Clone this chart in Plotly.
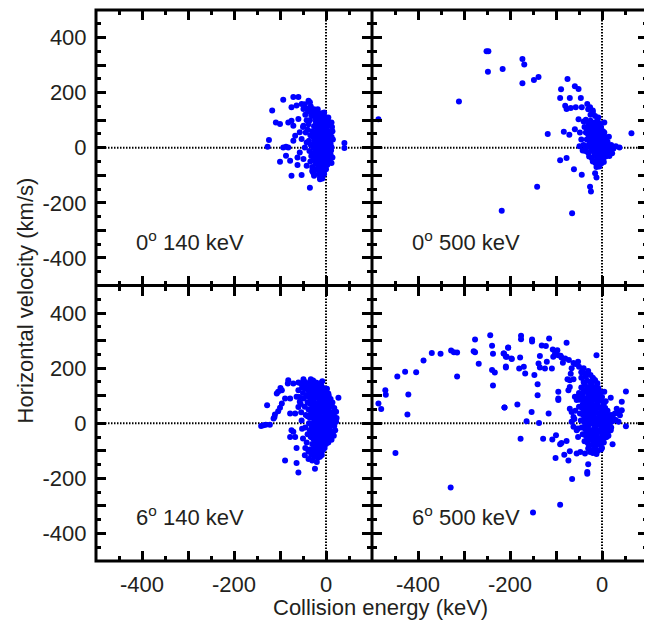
import plotly.graph_objects as go
from plotly.subplots import make_subplots

# ---------------- data ----------------
panel_labels = ["0<sup>o</sup> 140 keV", "0<sup>o</sup> 500 keV", "6<sup>o</sup> 140 keV", "6<sup>o</sup> 500 keV"]
x_ticks = [-500, -400, -300, -200, -100, 0, 100]
x_tick_text = ["", "-400", "", "-200", "", "0", ""]
y_ticks = [-500, -400, -300, -200, -100, 0, 100, 200, 300, 400, 500]
y_tick_text = ["", "-400", "", "-200", "", "0", "", "200", "", "400", ""]

# 0 deg, 140 keV
e_0_140 = [-93, -71, -60, -117, -109, -100, -124, -127, -93, -87, -82, -87, -100, -78, -62, -62, -75, -53, -35, 40, 40,
           -75, -64, -53, -49, -38, -35, -31, -82, -75, -71, -60, -49, -57, -67, -71, -53, -42, -46, -57, -49, -42, 12, 5,
           -13, -26, -30,
           -28, -24, -20, -16, -12, -8, -22, -18, -14, -10, -6, -2, -26, -20, -15, -11, -5, 0, -30, -24, -18, -13, -8, -3,
           2, 6, -28, -22, -16, -11, -6, -1, 4, 8, -25, -19, -14, -9, -4, 1, 5, 10, -27, -21, -16, -12, -7, -2, 3, 7, 12,
           -24, -18, -13, -8, -3, 2, 6, 10, -26, -20, -15, -10, -5, 0, 4, 8, -22, -17, -12, -7, -2, 3, -20, -15, -10, -5,
           0, -16, -11, -6, -13, -8, -35, -38, -40, -34, -37, -33, -36, -32, -34, -30, -28, -45, -42, -50, -44, -26, -30,
           -18, -10, 12, 14, 15, 13, 11, 14, 12, 9, 5, 0, -4, -32, -40, -46, -33, -39,
           -19, -15, -11, -7, -3, 1, -23, -17, -9, -5, -1, 3, -21, -13, -6, 0, -25, -19, -12, -4, 2, -27, -17, -10, -2, 4,
           -23, -14, -8, 0, 6, -20, -12, -6, 1, -18, -9, -3, 3, -14, -7, -1, -11, -4, -9, -17, -24, -29, -21, -6]
v_0_140 = [174, 184, 184, 135, 92, 86, 28, 4, 1, 4, 1, -29, -51, -47, -63, -35, -102, -99, -145, 17, -1,
           147, 153, 159, 141, 171, 165, 135, 92, 98, 80, 104, 80, 56, 44, 25, 32, 19, 1, -17, -41, -65, 92, 110,
           -114, -102, -84,
           120, 110, 128, 118, 105, 112, 95, 88, 96, 90, 85, 95, 78, 72, 80, 70, 75, 68, 60, 55, 62, 52, 58, 50,
           55, 48, 40, 35, 42, 32, 38, 30, 36, 28, 20, 15, 22, 12, 18, 10, 20, 14, 0, -5, 3, -8, 2, -4, 5, -2, 2,
           -18, -22, -15, -25, -18, -22, -15, -25, -38, -42, -35, -45, -38, -42, -35, -45, -58, -62, -55, -65, -58, -62,
           -78, -82, -75, -85, -78, -95, -100, -92, -108, -112, 100, 85, 65, 45, 25, 10, -12, -30, -50, -70, -90, 120,
           100, 75, 55, 140, 132, 140, 125, 40, 60, 30, 75, -10, -35, -55, 80, 95, 110, 128, 118, 142, 158, 150, 132,
           102, 115, 108, 98, 105, 92, 82, 77, 83, 64, 79, 62, 47, 45, 55, 44, 28, 33, 27, 24, 40, 12, 6, 16, 8, 12,
           -10, -3, -12, -9, -6, -30, -28, -33, -30, -48, -50, -46, -52, -68, -72, -70, -88, -95, -104, -66, -45, -20, 5, 118]

# 0 deg, 500 keV
e_0_500 = [-251, -247, -248, -216, -173, -169, -173, -148, -138, -311, -486, -118, -91, -77, -61, -44, -141, -218, -65,
           -26, -24, -15, -12, 64, 38, -75, -59, -51, -89, -91, -70, -46, -80, -77, -68, -57, -44, -32, -26, -20, -51,
           -59, -83, -71, -49, 5,
           -40, -35, -30, -25, -20, -15, -10, -5, -38, -32, -27, -22, -17, -12, -7, -2, -35, -30, -25, -20, -15, -10,
           -5, 0, -33, -28, -22, -17, -12, -7, -2, 3, 8, 12, -40, -34, -28, -22, -16, -10, -4, 2, 8, 14, 20, 25, 30,
           -36, -30, -24, -18, -12, -6, 0, 6, 12, 18, 22, -28, -22, -16, -10, -4, 2, 8, -20, -14, -8, -2, 4, -12, -6,
           -45, -42, -15, -8, -25, -20, 0, 5, 15, 16, -48, -30,
           -18, -13, -8, -3, 2, -24, -19, -14, -9, -4, 1, 6, -21, -16, -11, -6, -1, 4, 9, -26, -20, -14, -8, -2, 4, 10,
           16, -18, -12, -6, 0, 6, -15, -9, -3, 3, -11, -5, -23, -27]
v_0_500 = [350, 350, 276, 286, 322, 302, 234, 246, 257, 168, 103, 50, -45, -37, -78, -98, -142, -229, -238,
           -142, -159, -93, -108, 53, 1, 250, 223, 213, 212, 181, 181, 181, 152, 141, 144, 147, 147, 159, 147, 135, 103,
           67, 58, 47, 5, 92,
           95, 102, 90, 98, 85, 92, 100, 88, 75, 70, 78, 65, 72, 60, 68, 75, 55, 48, 58, 45, 52, 40,
           50, 42, 30, 35, 25, 32, 20, 28, 18, 25, 30, 22, 10, 5, 12, 2, 8, -2, 5, 0, 8, 3, 10, -3, 5,
           -12, -18, -8, -15, -22, -12, -18, -10, -15, -8, -20, -32, -38, -28, -35, -30, -40, -32, -50, -55, -48, -58,
           -52, -70, -68, 30, -10, 115, 110, 120, 128, 60, 55, 40, -30, 55, 140,
           80, 75, 82, 70, 60, 62, 55, 48, 58, 45, 35, 40, 38, 30, 42, 28, 22, 15, 12, 20, 14, 18, 10, 6, 12, -5,
           -12, -2, -8, -3, -12, -22, -25, -20, -30, -38, -45, -42, 45, 65]

# 6 deg, 140 keV
e_6_140 = [-141, -136, -131, -122, -114, -112, -111, -128, -104, -100, -96, -107, -104, -96, -99, -82, -83, -71, -60,
           -49, -46, -89, -78, -64, -57, -78, -67, -60, -75, -71, -78, -67, -64, -46, -38, -89, -64, -60, -24, -20, -13,
           27, 23, 5, 1,
           -40, -35, -30, -25, -20, -15, -10, -45, -38, -32, -27, -22, -17, -12, -7, -2, -42, -36, -30, -25, -20, -15,
           -10, -5, 0, 5, -40, -34, -28, -23, -18, -13, -8, -3, 2, 7, 12, -38, -32, -27, -22, -17, -12, -7, -2, 3, 8,
           13, 17, -40, -35, -30, -25, -20, -15, -10, -5, 0, 5, 10, 15, 20, -37, -32, -27, -22, -17, -12, -7, -2, 3, 8,
           13, 18, -35, -30, -25, -20, -15, -10, -5, 0, 5, 10, 15, -33, -28, -23, -18, -13, -8, -3, 2, 7, -30, -25, -20,
           -15, -10, -5, 0, -27, -22, -17, -12, -7, -32, -25, -18, -35, -42, -40, -45, -44, -46, -48, -50, -55, -52, -28,
           -22, -14, -6, 2, 6, 10, 14, 18, 22, -50, -45, -38, -30, -15, -3, 5, 12, 17, 20, 22, -8, -33, -48, -60, -58,
           -55, -54, -53, -52,
           -33, -28, -24, -19, -14, -9, -4, -36, -31, -26, -21, -16, -11, -6, -1, 4, -34, -29, -24, -19, -14, -9, -4, 1,
           6, 11, -33, -28, -23, -18, -13, -8, -3, 2, 7, 12, -31, -26, -21, -16, -11, -6, -1, 4, 9, -29, -24, -19, -14,
           -9, -4, 1, -26, -21, -16, -11, -6, -23, -14, -9]
v_6_140 = [-10, -7, -5, -5, 17, 23, 32, 65, 44, 56, 72, 108, 114, 120, 128, 156, 144, 144, 148,
           160, 150, 90, 90, 96, 78, 35, 35, 59, -25, -31, -50, -50, -90, -116, -102, -135, -144, -179, -165, -141, -122,
           93, 19, 108, 124,
           140, 150, 145, 138, 132, 128, 135, 125, 118, 125, 115, 120, 110, 115, 105, 112, 100, 95, 102, 90, 98, 88,
           95, 85, 92, 80, 75, 70, 78, 65, 72, 62, 70, 60, 68, 58, 65, 50, 45, 52, 40, 48, 38, 45, 35, 42, 32,
           40, 30, 25, 20, 28, 15, 22, 12, 20, 8, 15, 5, 12, 8, 18, 0, -5, 3, -8, 0, -10, -2, -12, -4, -14,
           -6, -10, -25, -30, -22, -35, -28, -38, -25, -35, -28, -40, -32, -50, -55, -48, -60, -52, -62, -50, -58, -48, -75, -80, -72,
           -85, -78, -88, -75, -100, -105, -95, -108, -98, -115, -120, -125, -95, -70, -40, -15, 30, 60, 90, 110, 145, 130, 155,
           148, 145, 128, 125, 100, 88, 75, 55, 42, -55, -90, -130, -135, -118, -90, -70, -60, -45, -25, 5, 152, 160, 135, 120, 95,
           70, 40, 10, -20,
           132, 140, 125, 118, 122, 110, 100, 108, 112, 96, 104, 92, 82, 88, 76, 70, 85, 62, 58, 66, 54, 50, 42, 55,
           44, 36, 34, 26, 16, 30, 6, 14, -4, 25, -2, 22, -16, -12, -20, -18, -32, -22, -44, -18, -26, -40, -65, -44, -70,
           -55, -68, -45, -88, -62, -92, -82, -70, -112, -98, -115]

# 6 deg, 500 keV
e_6_500 = [-486, -480, -471, -470, -445, -428, -421, -423, -449, -404, -388, -370, -351, -328, -322, -315, -315, -329,
           -279, -276, -276, -268, -243, -239, -237, -239, -233, -237, -212, -214, -209, -204, -197, -209,
           -176, -176, -152, -152, -115, -131, -122, -213, -204, -207, -196, -178, -180, -170, -167, -209, -147,
           -135, -138, -135, -124, -120, -109, -107, -102, -106, -95, -88, -77, -97, -140, -140, -153, -164, -137,
           -184, -212, -116, -177, -128, -108, -100, -91, -88, -77, -101, -82, -73, -70, -65, -91, -150, -32, -32,
           -30, -55, -47, -37, -26, -12, 5, 19, 43, 52, 52, 23, 32, 35, 28, 39, 43, -62, -52, -44, -37, -32, -22,
           -15, -12, -30, -70, -70, -73, -59, -55, -70, -66, -62, -95, -95, -95, -66, -62, -52,
           -45, -38, -30, -22, -15, -8, -50, -42, -35, -28, -20, -12, -5, -48, -40, -33, -26, -18, -10, -3, 4, -50,
           -43, -36, -29, -22, -15, -8, -1, 6, 12, -48, -41, -34, -27, -20, -13, -6, 1, 8, 15, 20, -46, -39, -32, -25,
           -18, -11, -4, 3, 10, 17, 24, 30, 36, -44, -37, -30, -23, -16, -9, -2, 5, 12, 19, -42, -35, -28, -21, -14,
           -7, 0, 7, 14, -38, -31, -24, -17, -10, -3, 4, -30, -23, -16, -9, -2, -20, -12, -56, -58, -60, -55, -52,
           -26, -18, -10, 0, 8, -35, -45, -40, -50, -58, -30, -25, -20, -66, -72, -80, -85, -90, -100, -68, -62, -75,
           -45, -40,
           -40, -33, -26, -19, -12, -5, -44, -37, -30, -23, -16, -9, -2, -42, -35, -28, -21, -14, -7, 0, 7, -40, -33,
           -26, -19, -12, -5, 2, 9, 16, -38, -31, -24, -17, -10, -3, 4, 11, 18, 25, -36, -29, -22, -15, -8, -1, 6, 13,
           20, -34, -27, -20, -13, -6, 1, 8, 15, -32, -25, -18, -11, -4, 3, 10, -28, -21, -14, -7, 0, -15]
v_6_500 = [72, 52, 120, 103, 170, 187, 104, 32, -108, 185, 228, 255, 252, 264, 258, 257, 170, -233,
           261, 258, 304, 216, 319, 281, 252, 193, 184, 137, 57, 253, 241, 274, 235, 202,
           318, 305, 304, 297, 308, 282, 280, 253, 275, 241, 233, 239, 199, 205, 181, 206, 175,
           244, 217, 202, 199, 223, 199, 268, 253, 241, 247, 239, 292, 265, 142, 102, 41, 7, 1,
           68, 57, 35, -56, -56, -59, -44, -76, -72, -64, -126, -114, -135, -102, -202, -296, -324, -177, -183,
           -149, -110, -104, -110, -104, 247, 114, 93, 78, 115, -11, -76, 53, 41, 35, 29, 47, 219, 223, 187, 181, 154, 144,
           156, 132, 132, 156, 132, 120, 96, 84, 53, 41, 23, 114, 90, 84, 5, -13, -19,
           130, 140, 125, 135, 120, 128, 110, 105, 115, 100, 108, 98, 110, 85, 80, 90, 75, 85, 72, 82, 70, 60,
           55, 65, 50, 58, 45, 55, 42, 50, 45, 35, 30, 38, 22, 32, 18, 28, 15, 25, 20, 30, 10, 5, 12, -2,
           8, -5, 5, -8, 2, -3, 8, 12, 5, -15, -20, -10, -25, -15, -28, -18, -30, -20, -25, -40, -45, -35, -50, -40,
           -55, -42, -52, -45, -65, -72, -60, -78, -68, -80, -70, -92, -98, -88, -100, -95, -108, -112, 95, 45, 15, -25, -50,
           150, 160, 145, 95, 80, 170, 185, 200, 205, 215, 190, 175, 165, 200, 230, 235, 220, 245, 250, 180, 160, 160,
           165, 150,
           118, 125, 112, 120, 105, 115, 95, 88, 100, 92, 95, 85, 92, 68, 72, 65, 70, 62, 60, 58, 55, 42, 48,
           40, 45, 38, 35, 32, 35, 28, 18, 22, 15, 20, 12, 18, 10, 15, 8, 16, -5, -2, 2, -8, 0, -6, -10, -8,
           -15, -30, -25, -32, -22, -30, -25, -35, -28, -55, -50, -58, -48, -60, -52, -50, -82, -78, -85, -75, -90, -100]

# ---------------- figure ----------------
FONT = "Liberation Sans, Arial, Helvetica, sans-serif"
TXT = "#231f20"

fig = make_subplots(rows=2, cols=2, shared_xaxes=True, shared_yaxes=True,
                    horizontal_spacing=0, vertical_spacing=0)

panels = [(e_0_140, v_0_140, 1, 1), (e_0_500, v_0_500, 1, 2),
          (e_6_140, v_6_140, 2, 1), (e_6_500, v_6_500, 2, 2)]
for xs, ys, r, c in panels:
    assert len(xs) == len(ys), (len(xs), len(ys))
    fig.add_trace(go.Scatter(x=xs, y=ys, mode="markers",
                             marker=dict(color="#0000ff", size=6, line=dict(width=0)),
                             showlegend=False, hoverinfo="skip"), row=r, col=c)

axis_common = dict(showline=True, linewidth=1, linecolor="black", mirror="allticks",
                   ticks="inside", ticklen=10, tickwidth=2.5, tickcolor="black",
                   showgrid=False, zeroline=False,
                   tickfont=dict(family=FONT, size=22, color=TXT),
                   minor=dict(ticks="inside", ticklen=5, tickwidth=2.5, tickcolor="black",
                              tickmode="array", tickvals=[-450, -350, -250, -150, -50, 50, 150, 250, 350, 450]))
fig.update_xaxes(range=[-500, 100], tickmode="array", tickvals=x_ticks, ticktext=x_tick_text,
                 ticklabelstandoff=4, **axis_common)
fig.update_yaxes(range=[-500, 500], tickmode="array", tickvals=y_ticks, ticktext=y_tick_text,
                 ticklabelstandoff=4, **axis_common)

refs = [("x", "y"), ("x2", "y2"), ("x3", "y3"), ("x4", "y4")]
shapes = []
for xr, yr in refs:
    shapes.append(dict(type="line", xref=xr, yref=yr, x0=-500, x1=100, y0=0, y1=0, layer="below",
                       line=dict(color="black", width=2, dash="1.5px,1.5px")))
    shapes.append(dict(type="line", xref=xr, yref=yr, x0=0, x1=0, y0=-500, y1=500, layer="below",
                       line=dict(color="black", width=2, dash="1.5px,1.5px")))
# heavy frame and panel dividers
shapes.append(dict(type="rect", xref="paper", yref="paper", x0=0, x1=1, y0=0, y1=1,
                   line=dict(color="black", width=3), layer="above"))
shapes.append(dict(type="line", xref="paper", yref="paper", x0=0.5, x1=0.5, y0=0, y1=1,
                   line=dict(color="black", width=3), layer="above"))
shapes.append(dict(type="line", xref="paper", yref="paper", x0=0, x1=1, y0=0.5, y1=0.5,
                   line=dict(color="black", width=3), layer="above"))

annotations = []
for (xr, yr), lab in zip(refs, panel_labels):
    annotations.append(dict(text=lab, xref=xr, yref=yr, x=-418, y=-338, xanchor="left", yanchor="middle",
                            showarrow=False, font=dict(family=FONT, size=22, color=TXT)))
annotations.append(dict(text="Collision energy (keV)", xref="paper", yref="paper", x=0.516, y=-0.0835,
                        xanchor="center", yanchor="middle", showarrow=False,
                        font=dict(family=FONT, size=22, color=TXT)))
annotations.append(dict(text="Horizontal velocity (km/s)", xref="paper", yref="paper", x=-0.1286, y=0.473,
                        xanchor="center", yanchor="middle", textangle=-90, showarrow=False,
                        font=dict(family=FONT, size=22, color=TXT)))

fig.update_layout(width=644, height=618, margin=dict(l=88, r=4, t=2, b=65),
                  plot_bgcolor="white", paper_bgcolor="white",
                  shapes=shapes, annotations=annotations)

fig.write_html("out.html")
